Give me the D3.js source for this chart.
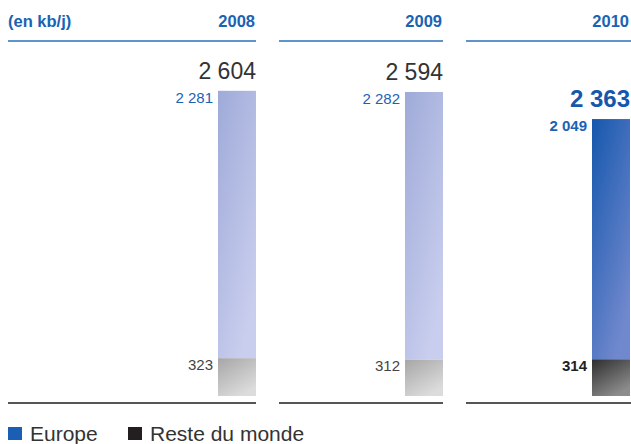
<!DOCTYPE html>
<html>
<head>
<meta charset="utf-8">
<script src="https://cdn.jsdelivr.net/npm/d3@7"></script>
<style>
  html, body { margin: 0; padding: 0; background: #fff; }
  svg { display: block; font-family: "Liberation Sans", Arial, Helvetica, sans-serif; }
</style>
</head>
<body>
<svg id="chart" width="631" height="444"></svg>
<script>
const years = ["2008", "2009", "2010"];
const europe = [2281, 2282, 2049];
const resteDuMonde = [323, 312, 314];
const totals = [2604, 2594, 2363];
const unitLabel = "(en kb/j)";
const legendLabels = ["Europe", "Reste du monde"];

const fmt = v => d3.format(",")(v).replace(/,/g, " ");

const svg = d3.select("#chart");
const defs = svg.append("defs");

function grad(id, c1, c2) {
  const g = defs.append("linearGradient").attr("id", id)
    .attr("x1", "0").attr("y1", "0").attr("x2", "0.6").attr("y2", "1");
  g.append("stop").attr("offset", "0").attr("stop-color", c1);
  g.append("stop").attr("offset", "1").attr("stop-color", c2);
}
grad("eu", "#9eaad8", "#c9ceee");
grad("euH", "#1557ad", "#7088cd");
grad("rw", "#a6a6a6", "#dcdcdc");
grad("rwH", "#2e2e2e", "#8c8c8c");

const blue = "#1a63b3";
const barW = 38;

// bar right edges
const xRight = d3.scalePoint().domain(years).range([256, 630]);
const y = d3.scaleLinear().domain([0, 2645]).range([396, 86]);

const panelLeft = (i) => i === 0 ? 8 : xRight(years[i - 1]) + 23;
const panelRight = (i) => i === years.length - 1 ? 631 : xRight(years[i]);

// header
svg.append("text").attr("x", 8).attr("y", 27)
  .attr("fill", blue).attr("font-size", 16.5).attr("font-weight", "bold")
  .text(unitLabel);

years.forEach((yr, i) => {
  const r = xRight(yr);
  const hl = i === years.length - 1;
  svg.append("text").attr("x", r - 1).attr("y", 27).attr("text-anchor", "end")
    .attr("fill", blue).attr("font-size", 16.5).attr("font-weight", "bold").text(yr);
  svg.append("line").attr("x1", panelLeft(i)).attr("x2", panelRight(i))
    .attr("y1", 41).attr("y2", 41).attr("stroke", "#2a6fb8").attr("stroke-width", 1.5);
  svg.append("line").attr("x1", panelLeft(i)).attr("x2", panelRight(i))
    .attr("y1", 403).attr("y2", 403).attr("stroke", "#555").attr("stroke-width", 2);

  const x0 = r - barW;
  // Reste du monde
  svg.append("rect").attr("x", x0).attr("width", barW)
    .attr("y", y(resteDuMonde[i])).attr("height", y(0) - y(resteDuMonde[i]))
    .attr("fill", hl ? "url(#rwH)" : "url(#rw)");
  // Europe
  const top = y(resteDuMonde[i] + europe[i]);
  svg.append("rect").attr("x", x0).attr("width", barW)
    .attr("y", top).attr("height", y(resteDuMonde[i]) - top)
    .attr("fill", hl ? "url(#euH)" : "url(#eu)");

  // labels
  svg.append("text").attr("x", r).attr("y", y(totals[i]) - 12).attr("text-anchor", "end")
    .attr("fill", hl ? "#1557ad" : "#333").attr("font-size", hl ? 24 : 23)
    .attr("font-weight", hl ? "bold" : "normal").text(fmt(totals[i]));
  svg.append("text").attr("x", x0 - 5).attr("y", top + 12).attr("text-anchor", "end")
    .attr("fill", blue).attr("font-size", 15)
    .attr("font-weight", hl ? "bold" : "normal").text(fmt(europe[i]));
  svg.append("text").attr("x", x0 - 5).attr("y", y(resteDuMonde[i]) + 12).attr("text-anchor", "end")
    .attr("fill", hl ? "#222" : "#444").attr("font-size", 15)
    .attr("font-weight", hl ? "bold" : "normal").text(fmt(resteDuMonde[i]));
});

// legend
const legendColors = ["#1a5fb4", "#231f20"];
const legendX = [8, 128];
legendLabels.forEach((l, i) => {
  svg.append("rect").attr("x", legendX[i]).attr("y", 427).attr("width", 14).attr("height", 13)
    .attr("fill", legendColors[i]);
  svg.append("text").attr("x", legendX[i] + 22).attr("y", 441)
    .attr("fill", "#333").attr("font-size", 21).text(l);
});
</script>
</body>
</html>
